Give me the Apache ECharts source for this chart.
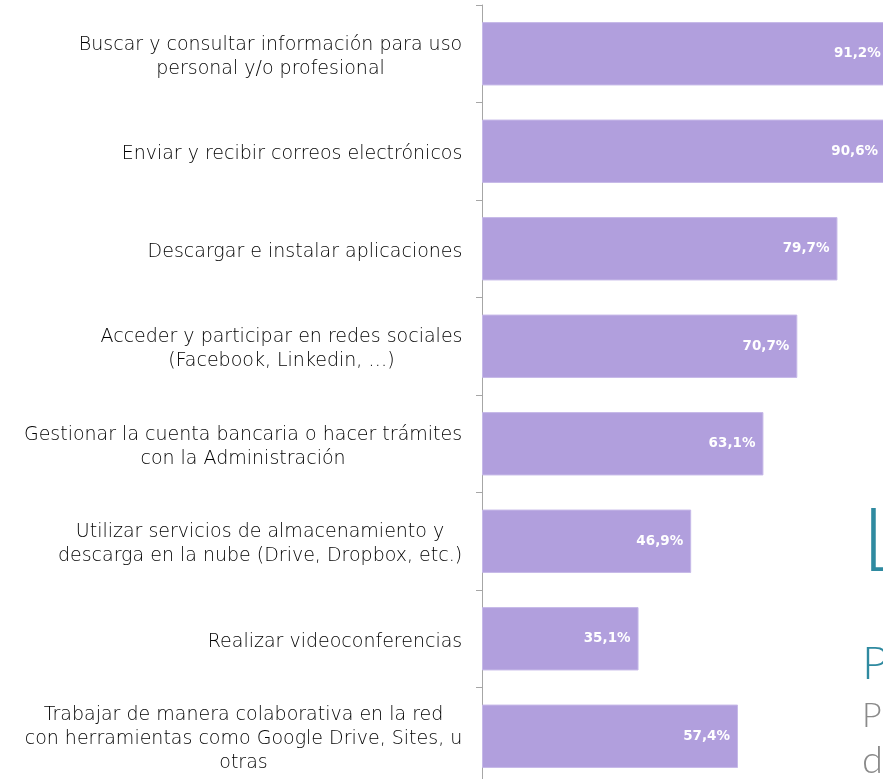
<!DOCTYPE html>
<html>
<head>
<meta charset="utf-8">
<script src="https://cdn.jsdelivr.net/npm/echarts@6/dist/echarts.min.js"></script>
<style>
html,body{margin:0;padding:0;background:#fff;overflow:hidden;width:883px;height:779px;}
#chart{width:930px;height:790px;}
</style>
</head>
<body>
<div id="chart"></div>
<script>
const categories = [
  'Buscar y consultar información para uso\npersonal y/o profesional',
  'Enviar y recibir correos electrónicos',
  'Descargar e instalar aplicaciones',
  'Acceder y participar en redes sociales\n(Facebook, Linkedin, …)',
  'Gestionar la cuenta bancaria o hacer trámites\ncon la Administración',
  'Utilizar servicios de almacenamiento y\ndescarga en la nube (Drive, Dropbox, etc.)',
  'Realizar videoconferencias',
  'Trabajar de manera colaborativa en la red\ncon herramientas como Google Drive, Sites, u\notras'
];
const values = [91.2, 90.6, 79.7, 70.7, 63.1, 46.9, 35.1, 57.4];

const LABEL_FONT = 'DejaVu Sans';
const LABEL_SIZE = 19;
const LABEL_WEIGHT = 200;
const LABEL_COLOR = '#000000';

// measure label blocks so multi-line labels are centred line by line, block right-aligned
const ctx = document.createElement('canvas').getContext('2d');
ctx.font = LABEL_WEIGHT + ' ' + LABEL_SIZE + 'px "' + LABEL_FONT + '"';
const rich = {};
categories.forEach((c, i) => {
  const w = Math.max(...c.split('\n').map(l => ctx.measureText(l).width));
  rich['r' + i] = {
    width: Math.ceil(w) + 1, align: 'center',
    fontFamily: LABEL_FONT, fontSize: LABEL_SIZE, fontWeight: LABEL_WEIGHT,
    color: LABEL_COLOR, lineHeight: 24
  };
});

const chart = echarts.init(document.getElementById('chart'));
chart.setOption({
  animation: false,
  backgroundColor: '#ffffff',
  grid: { left: 482, right: 2, top: 5, bottom: 5, containLabel: false },
  xAxis: {
    type: 'value', min: 0, max: 100, show: false
  },
  yAxis: {
    type: 'category',
    data: categories,
    inverse: true,
    axisLine: { show: true, lineStyle: { color: '#a6a6a6', width: 1 } },
    axisTick: { show: true, length: 6, lineStyle: { color: '#a6a6a6' } },
    axisLabel: {
      margin: 19,
      color: LABEL_COLOR,
      fontFamily: LABEL_FONT,
      fontSize: LABEL_SIZE,
      fontWeight: LABEL_WEIGHT,
      lineHeight: 24,
      align: 'right',
      padding: [6, 0, 0, 0],
      rich: rich,
      formatter: (v, i) => v.split('\n').map(l => '{r' + i + '|' + l + '}').join('\n')
    },
    splitLine: { show: false }
  },
  series: [{
    type: 'bar',
    data: values,
    barCategoryGap: '35%',
    itemStyle: { color: '#b19fdd', borderColor: '#c6b9e8', borderWidth: 1 },
    label: {
      show: true,
      position: 'insideRight',
      distance: 8,
      color: '#ffffff',
      fontFamily: 'DejaVu Sans',
      fontWeight: 'bold',
      fontSize: 13.5,
      formatter: p => p.value.toFixed(1).replace('.', ',') + '%'
    }
  }],
  graphic: [
    { type: 'text', left: 862, top: 499, style: { text: 'L', fontFamily: 'Lato', fontWeight: 300, fontSize: 88, fill: '#2f8aa0' } },
    { type: 'text', left: 862, top: 641, style: { text: 'P', fontFamily: 'Lato', fontWeight: 300, fontSize: 46, fill: '#2f8aa0' } },
    { type: 'text', left: 862, top: 699, style: { text: 'P', fontFamily: 'Lato', fontWeight: 300, fontSize: 34, fill: '#8a8a8a' } },
    { type: 'text', left: 862, top: 742, style: { text: 'd', fontFamily: 'Lato', fontWeight: 300, fontSize: 38, fill: '#8a8a8a' } }
  ]
});
</script>
</body>
</html>
